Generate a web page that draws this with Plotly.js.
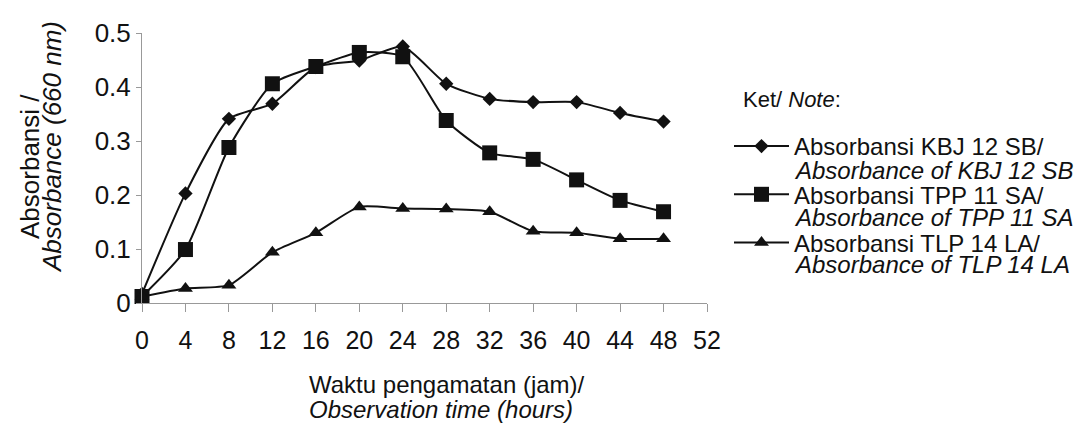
<!DOCTYPE html>
<html>
<head>
<meta charset="utf-8">
<script src="https://cdn.plot.ly/plotly-3.0.1.min.js"></script>
<style>html,body{margin:0;padding:0;background:#fff}#chart{width:1075px;height:425px}</style>
</head>
<body>
<div id="chart"></div>
<script>
const hours = [0, 4, 8, 12, 16, 20, 24, 28, 32, 36, 40, 44, 48];
const kbj12sb = [0.017, 0.203, 0.341, 0.369, 0.437, 0.449, 0.475, 0.406, 0.378, 0.372, 0.372, 0.352, 0.336];
const tpp11sa = [0.012, 0.099, 0.288, 0.406, 0.438, 0.464, 0.456, 0.338, 0.278, 0.266, 0.228, 0.190, 0.169];
const tlp14la = [0.012, 0.027, 0.033, 0.094, 0.130, 0.178, 0.175, 0.174, 0.169, 0.133, 0.130, 0.119, 0.119];
const seriesNames = ["Absorbansi KBJ 12 SB/", "Absorbansi TPP 11 SA/", "Absorbansi TLP 14 LA/"];
const seriesNamesEn = ["Absorbance of KBJ 12 SB", "Absorbance of TPP 11 SA", "Absorbance of TLP 14 LA"];
const xTicks = [0, 4, 8, 12, 16, 20, 24, 28, 32, 36, 40, 44, 48, 52];
const yTicks = [0, 0.1, 0.2, 0.3, 0.4, 0.5];
const legendNote = "Ket/ <i>Note</i>:";
const yTitle = ["Absorbansi /", "<i>Absorbance (660 nm)</i>"];
const xTitle = ["Waktu pengamatan (jam)/", "<i>Observation time (hours)</i>"];

const FONT = '"Liberation Sans", Arial, Helvetica, sans-serif';
const INK = '#111';

function tr(y, name, symbol, size, g) {
  return {
    x: hours, y: y, name: name, type: 'scatter', mode: 'lines+markers', legendgroup: g,
    line: {color: INK, width: 2, shape: 'spline', smoothing: 0.6},
    marker: {symbol: symbol, size: size, color: INK},
    cliponaxis: false
  };
}

const data = [
  tr(kbj12sb, seriesNames[0], 'diamond', 11, 'a'),
  tr(tpp11sa, seriesNames[1], 'square', 15, 'b'),
  tr(tlp14la, seriesNames[2], 'triangle-up', 13, 'c')
];

// plot area in px: left 142, width 565, bottom 303, height 270
const PL = 142, PW = 565, PB = 303, PH = 270;
const px = v => (v - PL) / PW;
const py = v => (PB - v) / PH;

function ann(text, x, y, size, extra) {
  return Object.assign({
    xref: 'paper', yref: 'paper', x: px(x), y: py(y), xanchor: 'left', yanchor: 'middle',
    showarrow: false, text: text, font: {family: FONT, size: size, color: INK}
  }, extra || {});
}

const annotations = [
  ann(legendNote, 741, 99, 22),
  ann('<i>' + seriesNamesEn[0] + '</i>', 792, 170, 24),
  ann('<i>' + seriesNamesEn[1] + '</i>', 792, 217, 24),
  ann('<i>' + seriesNamesEn[2] + '</i>', 792, 264, 24),
  ann(xTitle[0], 307, 384, 24),
  ann(xTitle[1], 307, 409, 24),
  ann(yTitle[0], 30, 167, 26, {xanchor: 'center', textangle: -90}),
  ann(yTitle[1], 52, 147, 26, {xanchor: 'center', textangle: -90})
];

const layout = {
  width: 1075, height: 425,
  margin: {l: PL, r: 1075 - PL - PW, t: PB - PH, b: 425 - PB},
  paper_bgcolor: '#fff', plot_bgcolor: '#fff',
  font: {family: FONT, size: 24, color: INK},
  showlegend: true,
  legend: {
    x: px(729), xanchor: 'left', y: py(124), yanchor: 'top',
    font: {family: FONT, size: 24, color: INK},
    traceorder: 'grouped', tracegroupgap: 14, itemwidth: 55, bgcolor: 'rgba(0,0,0,0)'
  },
  xaxis: {
    range: [0, 52], tickvals: xTicks, ticktext: xTicks.map(String),
    showgrid: false, zeroline: false, showline: true, linecolor: '#999', linewidth: 1,
    ticks: 'outside', ticklen: 8, tickcolor: '#999', tickwidth: 1,
    tickfont: {family: FONT, size: 25, color: INK}, ticklabelstandoff: 7,
    fixedrange: true
  },
  yaxis: {
    range: [0, 0.5], tickvals: yTicks, ticktext: yTicks.map(v => v === 0 ? '0' : v.toFixed(1)),
    showgrid: false, zeroline: false, showline: true, linecolor: '#999', linewidth: 1,
    ticks: 'outside', ticklen: 5, tickcolor: '#999', tickwidth: 1,
    tickfont: {family: FONT, size: 26, color: INK}, ticklabelstandoff: 0,
    automargin: false, fixedrange: true
  },
  annotations: annotations
};

Plotly.newPlot('chart', data, layout, {staticPlot: true, displayModeBar: false});
</script>
</body>
</html>
